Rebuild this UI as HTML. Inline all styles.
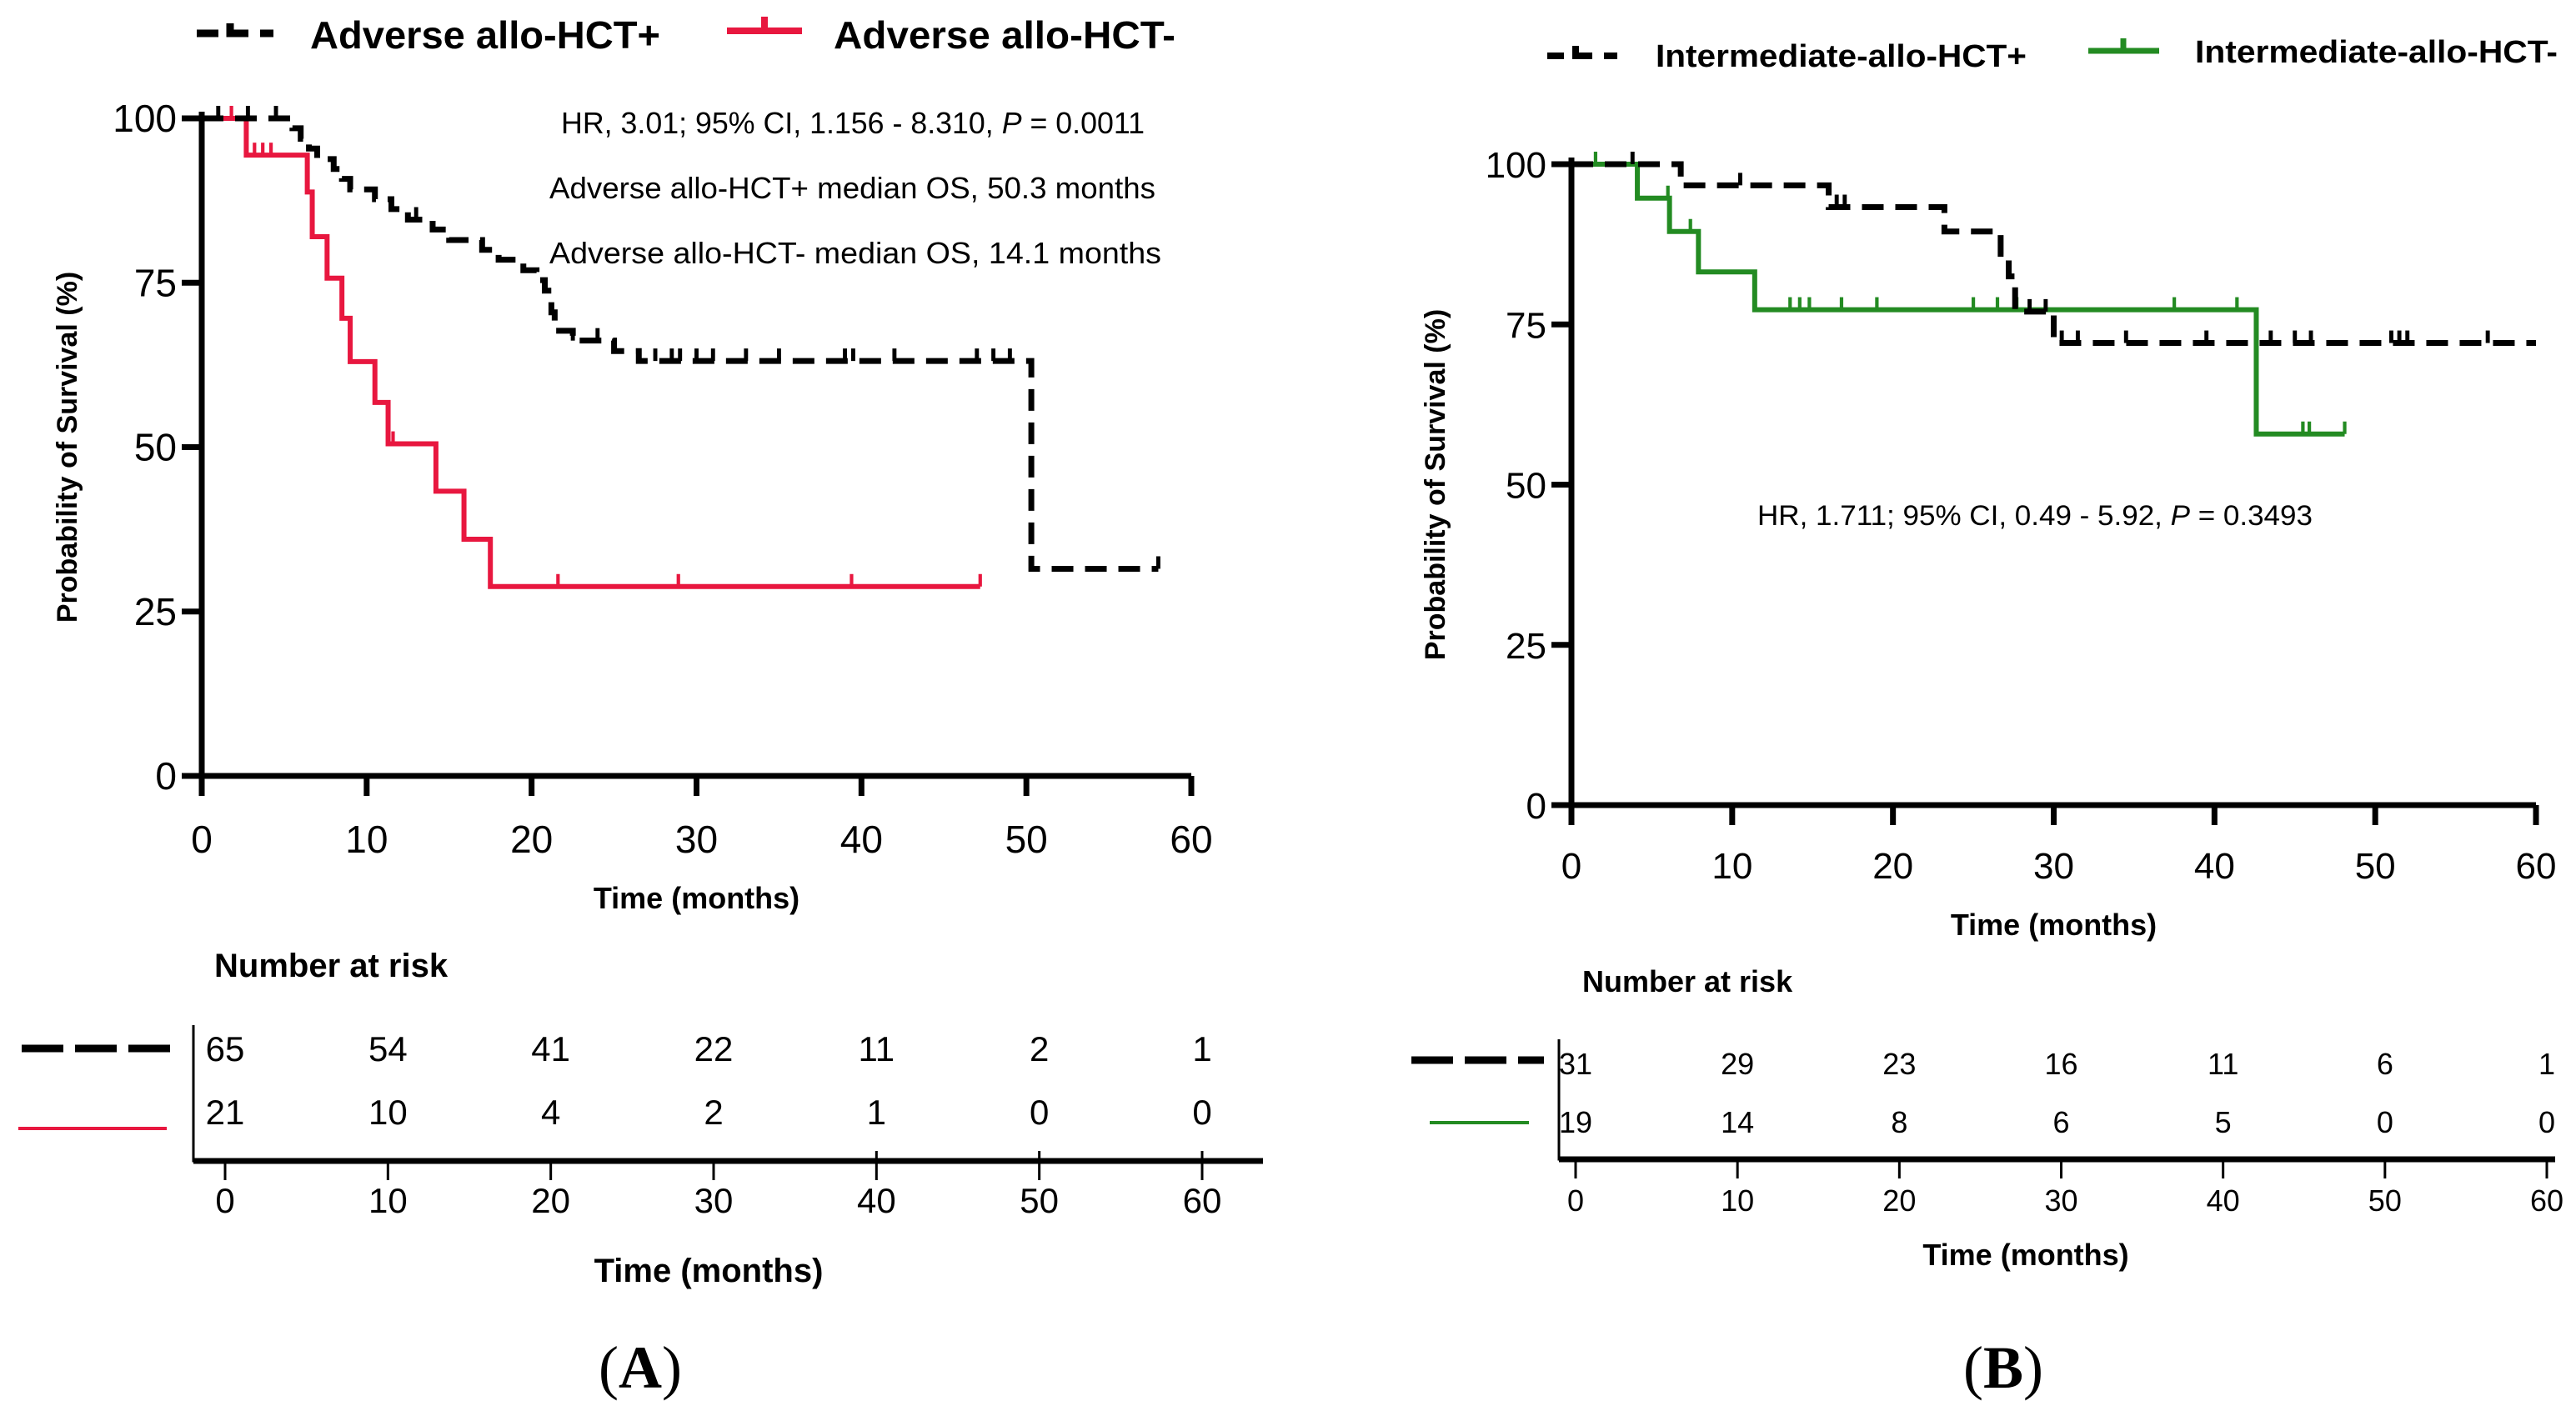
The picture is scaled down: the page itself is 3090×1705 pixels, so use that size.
<!DOCTYPE html>
<html><head><meta charset="utf-8"><style>
html,body{margin:0;padding:0;background:#fff;}
svg{display:block;font-family:"Liberation Sans",Arial,sans-serif;}
</style></head><body>
<svg id="fig" width="3090" height="1705" viewBox="0 0 3090 1705" xmlns="http://www.w3.org/2000/svg">
<g id="A"></g>
<g id="B"></g>
</svg>
<script>
// ---------- Panel A data ----------
const aPlusTimes = [5.5,6,6.5,7,8,8.5,9,10.5,11.5,12.5,14,15,17,18,19.5,20.3,20.8,21.2,21.4,22.5,25,26.5,50.3];
const aPlusSurv  = [98.5,96.9,95.4,93.8,92.3,90.8,89.2,87.7,86.2,84.6,83.1,81.5,80,78.5,76.9,75.4,73.8,70.5,67.7,66.2,64.6,63.1,31.5];
const aPlusCens  = [1,2.8,4.5,13,17,22.5,24,25,27.5,28.5,29,30,31,33,35,39,39.5,42,47,48,49,58];
const aPlusEnd = 58;
const aMinusTimes = [2.7,6.4,6.7,7.6,8.5,9,10.5,11.3,14.2,15.9,17.5];
const aMinusSurv  = [94.4,88.8,82,75.7,69.6,63,56.8,50.5,43.3,36,28.8];
const aMinusCens  = [1.8,3.2,3.7,4.2,11.6,21.6,28.9,39.4,47.2];
const aMinusEnd = 47.2;
const aRiskPlus  = [65,54,41,22,11,2,1];
const aRiskMinus = [21,10,4,2,1,0,0];
// ---------- Panel B data ----------
const bPlusTimes = [6.8,16,23.2,26.7,27.2,27.6,30];
const bPlusSurv  = [96.7,93.3,89.5,86,82.5,77,72.1];
const bPlusCens  = [3.8,10.5,16.5,17,28.5,29.5,30.5,31.5,34.5,39.5,43.5,45,46,51,51.5,52,57];
const bPlusEnd = 60;
const bMinusTimes = [4.1,6.1,7.9,11.4,42.6];
const bMinusSurv  = [94.7,89.5,83.2,77.3,57.9];
const bMinusCens  = [1.5,6,7.4,13.6,14.2,14.8,16.8,19,25,26.5,27.7,37.5,41.4,45.5,45.9,48.1];
const bMinusEnd = 48.1;
const bRiskPlus  = [31,29,23,16,11,6,1];
const bRiskMinus = [19,14,8,6,5,0,0];
const xTicks = [0,10,20,30,40,50,60];
const yTicks = [0,25,50,75,100];

const NS="http://www.w3.org/2000/svg";
function mk(parent,tag,attrs,text){const e=document.createElementNS(NS,tag);for(const k in attrs)e.setAttribute(k,attrs[k]);if(text!==undefined)e.textContent=text;parent.appendChild(e);return e;}
function survAt(times,surv,t){let s=100;for(let i=0;i<times.length;i++){if(times[i]<=t)s=surv[i];}return s;}

function curve(g,X,Y,times,surv,cens,end,color,dash,w,name){
  let d=`M${X(0)},${Y(100)}`;
  for(let i=0;i<times.length;i++){d+=` H${X(times[i])} V${Y(surv[i])}`;}
  d+=` H${X(end)}`;
  const p=mk(g,'path',{d:d,fill:'none',stroke:color,'stroke-width':w,'stroke-dasharray':dash});
  
  
  cens.forEach(t=>{const s=survAt(times,surv,t);
    const c=mk(g,'line',{x1:X(t),x2:X(t),y1:Y(s),y2:Y(s)-15,stroke:color,'stroke-width':w*0.7});
    
    
  });
}

function panel(g,o){
  const X=t=>o.x0+t*(o.x60-o.x0)/60;
  const Y=s=>o.y0-s*(o.y0-o.y100)/100;
  const ax=mk(g,'path',{d:`M${X(0)},${Y(100)-8} V${Y(0)} H${X(60)}`,fill:'none',stroke:'#000','stroke-width':7});
  
  
  yTicks.forEach(v=>{
    mk(g,'line',{x1:X(0)-24,x2:X(0),y1:Y(v),y2:Y(v),stroke:'#000','stroke-width':7});
    const t=mk(g,'text',{x:X(0)-30,y:Y(v)+16,'text-anchor':'end','font-size':o.tf},String(v));
    
    
  });
  xTicks.forEach(v=>{
    mk(g,'line',{x1:X(v),x2:X(v),y1:Y(0),y2:Y(0)+24,stroke:'#000','stroke-width':7});
    const t=mk(g,'text',{x:X(v),y:Y(0)+o.xlOff,'text-anchor':'middle','font-size':o.tf},String(v));
    
    
  });
  const yt=mk(g,'text',{transform:`translate(${o.ytx},${(Y(0)+Y(100))/2}) rotate(-90)`,'text-anchor':'middle','font-size':34,'font-weight':'bold'},'Probability of Survival (%)');
  
  
  const xt=mk(g,'text',{x:X(30),y:o.xty,'text-anchor':'middle','font-size':36,'font-weight':'bold'},'Time (months)');
  
  
  curve(g,X,Y,o.mT,o.mS,o.mC,o.mE,o.col,'none',6,'allo-hct-minus');
  curve(g,X,Y,o.pT,o.pS,o.pC,o.pE,'#000','26 14',7,'allo-hct-plus');
  const R=o.risk;
  const RX=t=>R.x0+t*(R.x60-R.x0)/60;
  const rax=mk(g,'path',{d:`M${R.vx},${R.top} V${R.ay} H${R.right}`,fill:'none',stroke:'#000','stroke-width':3});
  
  
  mk(g,'line',{x1:R.vx,x2:R.right,y1:R.ay,y2:R.ay,stroke:'#000','stroke-width':7});
  xTicks.forEach((v,i)=>{
    mk(g,'line',{x1:RX(v),x2:RX(v),y1:R.ay-(R.up&&i>=4?12:0),y2:R.ay+23,stroke:'#000','stroke-width':3});
    const t=mk(g,'text',{x:RX(v),y:R.ay+62,'text-anchor':'middle','font-size':R.fs},String(v));
    
    
    const a=mk(g,'text',{x:RX(v),y:R.r1+15,'text-anchor':'middle','font-size':R.fs},String(o.rP[i]));
    
    
    const b=mk(g,'text',{x:RX(v),y:R.r2+15,'text-anchor':'middle','font-size':R.fs},String(o.rM[i]));
    
    
  });
  mk(g,'line',{x1:R.lx1,x2:R.lx2,y1:R.ld,y2:R.ld,stroke:'#000','stroke-width':9,'stroke-dasharray':'50 14'});
  mk(g,'line',{x1:R.lx1+R.gx,x2:R.lx2-R.gx2,y1:R.lm,y2:R.lm,stroke:o.col,'stroke-width':4});
  const nr=mk(g,'text',{x:R.nx,y:R.ny,'font-size':R.nfs,'font-weight':'bold'},'Number at risk');
  
  
  const rt=mk(g,'text',{x:R.tx,y:R.ty,'text-anchor':'middle','font-size':R.tfs,'font-weight':'bold'},'Time (months)');
  
  
}

const gA=document.getElementById('A'), gB=document.getElementById('B');
panel(gA,{x0:242,x60:1429,y0:931,y100:142,tf:46,xlOff:92,ytx:92,xty:1090,col:'#e8173f',
  pT:aPlusTimes,pS:aPlusSurv,pC:aPlusCens,pE:aPlusEnd,mT:aMinusTimes,mS:aMinusSurv,mC:aMinusCens,mE:aMinusEnd,
  rP:aRiskPlus,rM:aRiskMinus,
  risk:{x0:270,x60:1442,vx:232,top:1230,ay:1393,right:1515,up:true,fs:42,r1:1258,r2:1334,lx1:26,lx2:206,ld:1258,lm:1354,gx:-4,gx2:6,nx:257,ny:1172,nfs:40,tx:850,ty:1538,tfs:40}});
panel(gB,{x0:1885,x60:3042,y0:966,y100:197,tf:44,xlOff:88,ytx:1733,xty:1122,col:'#238b22',
  pT:bPlusTimes,pS:bPlusSurv,pC:bPlusCens,pE:bPlusEnd,mT:bMinusTimes,mS:bMinusSurv,mC:bMinusCens,mE:bMinusEnd,
  rP:bRiskPlus,rM:bRiskMinus,
  risk:{x0:1890,x60:3055,vx:1870,top:1247,ay:1391,right:3065,up:false,fs:36,r1:1274,r2:1344,lx1:1693,lx2:1852,ld:1272,lm:1347,gx:22,gx2:18,nx:1898,ny:1190,nfs:36,tx:2430,ty:1518,tfs:36}});

function txt(g,name,attrs,s){const t=mk(g,'text',attrs,s);return t;}
mk(gA,'path',{d:'M236,40 H262 M276,28 V40 H298 M312,40 H328',stroke:'#000','stroke-width':9,fill:'none'});
mk(gA,'path',{d:'M872,37 H962 M917,37 V20',stroke:'#e8173f','stroke-width':8,fill:'none'});
txt(gA,'legend-adverse-plus',{x:372,y:58,'font-size':46,'font-weight':'bold',textLength:420,lengthAdjust:'spacingAndGlyphs'},'Adverse allo-HCT+');
txt(gA,'legend-adverse-minus',{x:1000,y:58,'font-size':46,'font-weight':'bold',textLength:410,lengthAdjust:'spacingAndGlyphs'},'Adverse allo-HCT-');
const hrA=txt(gA,'hr-annotation',{x:673,y:160,'font-size':36,textLength:700,lengthAdjust:'spacingAndGlyphs'},'');
hrA.innerHTML='HR, 3.01; 95% CI, 1.156 - 8.310, <tspan font-style="italic">P</tspan> = 0.0011';
txt(gA,'median-os-plus',{x:659,y:238,'font-size':36,textLength:727,lengthAdjust:'spacingAndGlyphs'},'Adverse allo-HCT+  median OS, 50.3 months');
txt(gA,'median-os-minus',{x:659,y:316,'font-size':36,textLength:734,lengthAdjust:'spacingAndGlyphs'},'Adverse allo-HCT-    median OS, 14.1 months');

mk(gB,'path',{d:'M1856,67 H1876 M1890,55 V67 H1910 M1924,67 H1940',stroke:'#000','stroke-width':8,fill:'none'});
mk(gB,'path',{d:'M2505,61 H2590 M2547,61 V46',stroke:'#238b22','stroke-width':7,fill:'none'});
txt(gB,'legend-intermediate-plus',{x:1986,y:80,'font-size':38,'font-weight':'bold',textLength:445,lengthAdjust:'spacingAndGlyphs'},'Intermediate-allo-HCT+');
txt(gB,'legend-intermediate-minus',{x:2633,y:75,'font-size':38,'font-weight':'bold',textLength:435,lengthAdjust:'spacingAndGlyphs'},'Intermediate-allo-HCT-');
const hrB=txt(gB,'hr-annotation-b',{x:2108,y:630,'font-size':34,textLength:666,lengthAdjust:'spacingAndGlyphs'},'');
hrB.innerHTML='HR, 1.711; 95% CI, 0.49 - 5.92, <tspan font-style="italic">P</tspan> = 0.3493';

const la=txt(gA,'panel-label-a',{x:768,y:1665,'text-anchor':'middle','font-size':72,'font-family':'Liberation Serif, serif'},'');
la.innerHTML='(<tspan font-weight="bold">A</tspan>)';
const lb=txt(gB,'panel-label-b',{x:2403,y:1665,'text-anchor':'middle','font-size':72,'font-family':'Liberation Serif, serif'},'');
lb.innerHTML='(<tspan font-weight="bold">B</tspan>)';
</script>
</body></html>
